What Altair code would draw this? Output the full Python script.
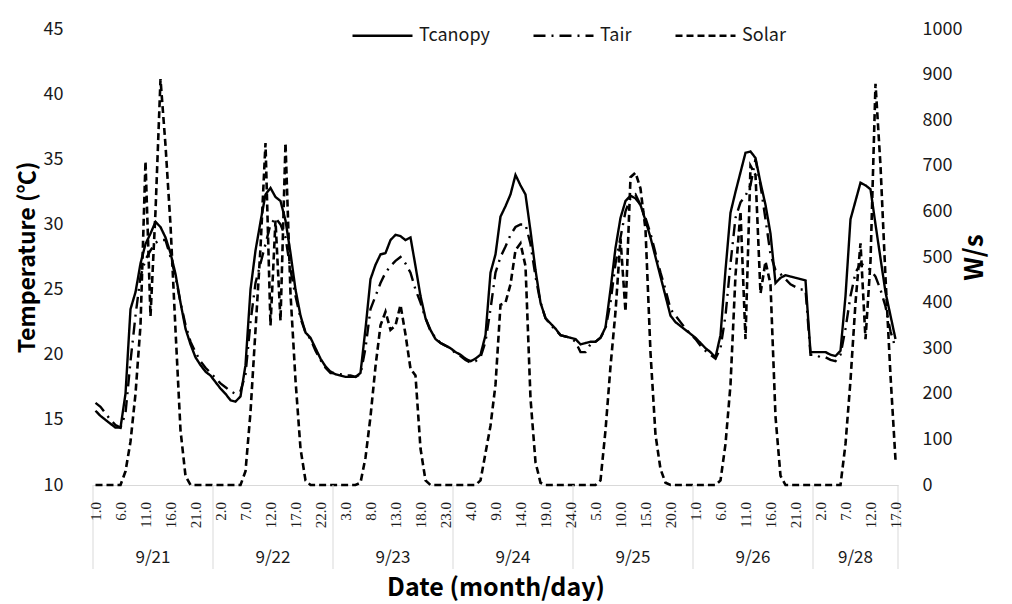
import altair as alt
import pandas as pd

# ---------------- data ----------------
days = ["9/21", "9/22", "9/23", "9/24", "9/25", "9/26", "9/28"]
hours_per_day = [24, 24, 24, 24, 24, 24, 17]

tcanopy = (
    [15.7, 15.3, 15.0, 14.7, 14.4, 14.4, 17.0, 23.5, 24.8, 27.0, 28.5, 29.3, 30.2, 29.8, 29.0, 27.8, 26.2, 24.0, 22.0, 20.8, 19.8, 19.2, 18.7, 18.4]
    + [17.9, 17.4, 17.0, 16.5, 16.4, 16.8, 19.2, 25.0, 28.0, 30.2, 32.3, 32.8, 32.1, 31.8, 30.3, 27.8, 25.0, 23.0, 21.7, 21.3, 20.5, 19.7, 19.1, 18.7]
    + [18.5, 18.4, 18.3, 18.3, 18.3, 18.6, 22.0, 25.8, 26.9, 27.7, 27.8, 28.8, 29.2, 29.1, 28.8, 29.0, 26.8, 24.5, 22.8, 21.9, 21.2, 20.9, 20.7, 20.5]
    + [20.2, 20.0, 19.7, 19.5, 19.7, 20.0, 21.5, 26.3, 27.7, 30.6, 31.4, 32.3, 33.8, 33.0, 32.3, 29.5, 26.5, 24.0, 22.8, 22.4, 22.0, 21.5, 21.4, 21.3]
    + [21.2, 20.8, 20.9, 21.0, 21.0, 21.3, 22.1, 25.0, 28.2, 30.5, 31.8, 32.2, 32.0, 31.5, 30.3, 29.0, 27.5, 26.0, 24.5, 23.0, 22.5, 22.2, 21.9, 21.6]
    + [21.3, 20.9, 20.5, 20.2, 19.8, 21.5, 26.5, 30.9, 32.5, 34.0, 35.5, 35.6, 35.1, 33.2, 31.5, 29.3, 25.5, 25.9, 26.1, 26.0, 25.9, 25.8, 25.7, 20.2]
    + [20.2, 20.2, 20.2, 20.0, 19.9, 20.3, 24.5, 30.4, 31.8, 33.2, 33.0, 32.7, 30.0, 27.4, 24.8, 23.0, 21.2]
)

tair = (
    [16.3, 16.0, 15.5, 15.0, 14.6, 14.4, 15.5, 19.5, 23.0, 26.0, 27.3, 28.0, 28.6, 28.8, 28.8, 27.5, 26.0, 24.0, 22.3, 21.0, 20.2, 19.5, 19.0, 18.6]
    + [18.2, 17.8, 17.5, 17.2, 17.0, 17.2, 18.5, 22.5, 25.5, 27.0, 28.5, 30.0, 30.5, 30.0, 29.0, 26.5, 24.5, 22.8, 21.7, 21.2, 20.3, 19.6, 19.0, 18.6]
    + [18.6, 18.5, 18.4, 18.4, 18.3, 18.5, 20.5, 23.5, 24.5, 25.5, 26.3, 26.8, 27.2, 27.5, 27.0, 26.3, 25.0, 24.0, 22.8, 21.8, 21.3, 20.9, 20.7, 20.5]
    + [20.1, 19.9, 19.6, 19.4, 19.5, 19.8, 21.0, 23.5, 26.3, 27.5, 28.3, 29.2, 29.8, 30.0, 30.0, 28.5, 26.0, 24.0, 22.8, 22.3, 21.9, 21.5, 21.4, 21.3]
    + [21.0, 20.2, 20.2, 20.8, 21.0, 21.3, 22.0, 24.0, 27.0, 29.0, 31.0, 32.0, 32.3, 31.5, 30.5, 29.3, 27.8, 26.3, 25.0, 23.5, 23.0, 22.5, 22.0, 21.6]
    + [21.2, 20.7, 20.3, 20.0, 19.7, 20.5, 23.0, 27.0, 30.5, 31.7, 32.2, 33.0, 35.0, 33.0, 30.4, 27.7, 26.5, 26.2, 25.8, 25.4, 25.2, 25.0, 25.0, 20.0]
    + [20.0, 19.8, 19.8, 19.6, 19.5, 20.0, 22.0, 24.5, 26.3, 27.0, 26.8, 26.5, 26.0, 25.0, 23.7, 21.8, 20.5]
)

solar = (
    [0, 0, 0, 0, 0, 0, 30, 95, 200, 350, 710, 370, 600, 890, 745, 570, 340, 120, 20, 0, 0, 0, 0, 0]
    + [0, 0, 0, 0, 0, 0, 30, 160, 340, 520, 750, 350, 580, 360, 750, 420, 230, 80, 10, 0, 0, 0, 0, 0]
    + [0, 0, 0, 0, 0, 5, 60, 150, 260, 350, 380, 340, 350, 395, 330, 255, 240, 80, 10, 0, 0, 0, 0, 0]
    + [0, 0, 0, 0, 0, 10, 70, 130, 220, 395, 400, 440, 515, 530, 480, 190, 50, 5, 0, 0, 0, 0, 0, 0]
    + [0, 0, 0, 0, 0, 10, 120, 260, 380, 540, 380, 675, 685, 650, 560, 290, 110, 35, 5, 0, 0, 0, 0, 0]
    + [0, 0, 0, 0, 0, 10, 90, 220, 460, 600, 320, 700, 680, 420, 490, 440, 150, 20, 0, 0, 0, 0, 0, 0]
    + [0, 0, 0, 0, 0, 0, 90, 230, 400, 530, 320, 490, 880, 700, 455, 240, 55]
)

series_names = ["Tcanopy", "Tair", "Solar"]
temp_ticks = [10, 15, 20, 25, 30, 35, 40, 45]
solar_ticks = [0, 100, 200, 300, 400, 500, 600, 700, 800, 900, 1000]

# ---------------- tables ----------------
rows = []
i = 0
for d, n in zip(days, hours_per_day):
    for h in range(1, n + 1):
        rows.append({"idx": i, "x": i + 0.5, "day": d, "hour": h})
        i += 1
base = pd.DataFrame(rows)
base["Tcanopy"] = tcanopy
base["Tair"] = tair
base["Solar"] = solar
N = len(base)

temp_long = base.melt(id_vars=["x"], value_vars=["Tcanopy", "Tair"],
                      var_name="series", value_name="value")
solar_long = base[["x", "Solar"]].rename(columns={"Solar": "value"})
solar_long["series"] = "Solar"

hour_lab = base[base["idx"] % 5 == 0].copy()
hour_lab["label"] = hour_lab["hour"].map(lambda h: f"{h:.1f}")

starts = [0]
for n in hours_per_day:
    starts.append(starts[-1] + n)
day_lab = pd.DataFrame({"x": [(starts[k] + starts[k + 1]) / 2 for k in range(len(days))],
                        "day": days})
seps = pd.DataFrame({"x": starts})

# ---------------- chart ----------------
W, H = 805, 456
FONT = "Noto Sans CJK KR"
TXT = "#1a1a1a"

xscale = alt.Scale(domain=[0, N], nice=False, zero=False)
xaxis = alt.Axis(labels=False, ticks=False, grid=False, domainColor="#d9d9d9",
                 domainWidth=1, title="Date (month/day)", titleFont=FONT,
                 titleFontSize=25, titleFontWeight="bold", titleColor="black",
                 titlePadding=90)
dash_scale = alt.Scale(domain=series_names, range=[[1, 0], [12, 6, 2, 6], [7, 4]])
legend = alt.Legend(title=None, orient="none", legendX=258, legendY=-25,
                    direction="horizontal", symbolType="stroke", symbolSize=3600,
                    symbolStrokeWidth=2.6, symbolStrokeColor="black",
                    labelFont=FONT, labelFontSize=18, labelColor=TXT,
                    labelOffset=5, columnPadding=38)

temp = alt.Chart(temp_long).mark_line(color="black", strokeWidth=2.4).encode(
    x=alt.X("x:Q", scale=xscale, axis=xaxis),
    y=alt.Y("value:Q", scale=alt.Scale(domain=[10, 45], nice=False, zero=False),
            axis=alt.Axis(orient="left", values=temp_ticks, grid=False, ticks=False,
                          domain=False, labelPadding=30, labelFont=FONT,
                          labelFontSize=18, labelColor=TXT,
                          title="Temperature (℃)", titleFont=FONT,
                          titleFontSize=23, titleFontWeight="bold",
                          titleColor="black", titlePadding=4)),
    strokeDash=alt.StrokeDash("series:N", scale=dash_scale, legend=legend),
    detail="series:N",
)

sol = alt.Chart(solar_long).mark_line(color="black", strokeWidth=2.6).encode(
    x=alt.X("x:Q", scale=xscale, axis=xaxis),
    y=alt.Y("value:Q", scale=alt.Scale(domain=[0, 1000], nice=False, zero=True),
            axis=alt.Axis(orient="right", values=solar_ticks, format="d",
                          grid=False, ticks=False,
                          domain=False, labelPadding=24, labelFont=FONT,
                          labelFontSize=18, labelColor=TXT, title="W/s",
                          titleFont=FONT, titleFontSize=26, titleFontWeight="bold",
                          titleColor="black", titleAngle=270, titlePadding=26)),
    strokeDash=alt.StrokeDash("series:N", scale=dash_scale, legend=legend),
)

hours_txt = alt.Chart(hour_lab).mark_text(
    angle=270, align="right", baseline="middle", font="Liberation Serif",
    fontSize=15, color=TXT
).encode(
    x=alt.X("x:Q", scale=xscale, axis=xaxis),
    y=alt.value(H + 17),
    text="label:N",
)

days_txt = alt.Chart(day_lab).mark_text(
    align="center", baseline="middle", font=FONT, fontSize=17, color=TXT
).encode(
    x=alt.X("x:Q", scale=xscale, axis=xaxis),
    y=alt.value(H + 73),
    text="day:N",
)

sep_rules = alt.Chart(seps).mark_rule(color="#d9d9d9", strokeWidth=1).encode(
    x=alt.X("x:Q", scale=xscale, axis=xaxis),
    y=alt.value(H),
    y2=alt.value(H + 84),
)

chart = alt.layer(temp, sol, sep_rules, hours_txt, days_txt).resolve_scale(
    y="independent"
).properties(
    width=W, height=H,
    padding={"left": 85, "top": 21, "right": 106, "bottom": 116},
    autosize=alt.AutoSizeParams(type="none"),
    background="white",
).configure_view(stroke=None)

chart.save("out.html", embed_options={"renderer": "svg", "actions": False})
